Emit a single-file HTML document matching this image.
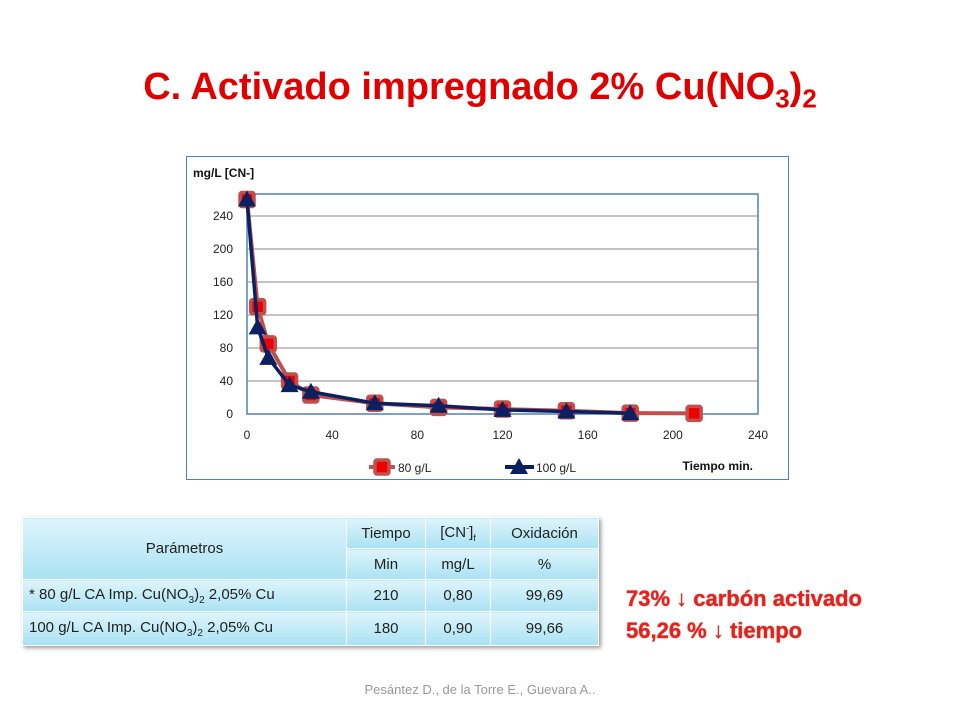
<!DOCTYPE html>
<html><head><meta charset="utf-8"><style>
body{margin:0;width:960px;height:720px;background:#fff;position:relative;overflow:hidden;font-family:"Liberation Sans",sans-serif}
#title{position:absolute;left:0;top:66px;width:960px;text-align:center;color:#e00000;font-weight:bold;font-size:38px}
#chart{position:absolute;left:186px;top:156px;width:603px;height:324px;border:1.5px solid #4f81bd;box-sizing:border-box}
table{position:absolute;left:22px;top:517px;border-collapse:collapse;font-size:15px;color:#222;box-shadow:2px 2px 4px #999}
td{border:1px solid #fff;text-align:center;background:linear-gradient(#def4fb,#a9e2f3);padding:0}
.note{position:absolute;left:626px;color:#e8201a;font-weight:bold;font-size:22px;text-shadow:0 0 1px #a00}
#foot{position:absolute;left:0;width:960px;top:682px;text-align:center;color:#999;font-size:13px}
</style></head><body>
<div id="title">C. Activado impregnado 2% Cu(NO<sub style="font-size:26px">3</sub>)<sub style="font-size:26px">2</sub></div>
<div id="chart"><svg id="svg" width="603" height="324"></svg></div>
<table>
<tr style="height:31px"><td rowspan="2" style="width:323px">Parámetros</td><td style="width:78px">Tiempo</td><td style="width:64px">[CN<sup style="font-size:9px">-</sup>]<sub style="font-size:9px">f</sub></td><td style="width:107px">Oxidación</td></tr>
<tr style="height:31px"><td>Min</td><td>mg/L</td><td>%</td></tr>
<tr style="height:32px"><td style="text-align:left;padding-left:6px">* 80 g/L CA Imp. Cu(NO<sub style="font-size:10px">3</sub>)<sub style="font-size:10px">2</sub> 2,05% Cu</td><td>210</td><td>0,80</td><td>99,69</td></tr>
<tr style="height:34px"><td style="text-align:left;padding-left:6px">100 g/L CA Imp. Cu(NO<sub style="font-size:10px">3</sub>)<sub style="font-size:10px">2</sub> 2,05% Cu</td><td>180</td><td>0,90</td><td>99,66</td></tr>
</table>
<div class="note" style="top:586px">73% ↓ carbón activado</div>
<div class="note" style="top:618px">56,26 % ↓ tiempo</div>
<div id="foot">Pesántez D., de la Torre E., Guevara A..</div>
<script>
const x80=[0,5,10,20,30,60,90,120,150,180,210];
const y80=[260,130,85,40,23,13,8,6,4,1,0.8];
const x100=[0,5,10,20,30,60,90,120,150,180];
const y100=[260,105,68,35,27,13,10,5,3,0.9];
const xTicks=[0,40,80,120,160,200,240];
const yTicks=[0,40,80,120,160,200,240];
const NS="http://www.w3.org/2000/svg";
const svg=document.getElementById('svg');
const L=60,R=571,T=37,B=257;
const sx=v=>L+v/240*(R-L);
function sy2(v){return B-v*(198/240);}
function mk(t,a,txt){const e=document.createElementNS(NS,t);for(const k in a)e.setAttribute(k,a[k]);if(txt!=null)e.textContent=txt;svg.appendChild(e);return e;}
let e;
e=mk('rect',{x:L,y:T,width:R-L,height:B-T,fill:'#fff',stroke:'#4f81bd','stroke-width':1.5});


yTicks.forEach(v=>{
 if(v>0){e=mk('line',{x1:L,x2:R,y1:sy2(v),y2:sy2(v),stroke:'#888'});
 
 }
 e=mk('text',{x:L-14,y:sy2(v)+4,'text-anchor':'end','font-size':12,fill:'#222'},v);
 
 
});
xTicks.forEach(v=>{
 e=mk('text',{x:sx(v),y:B+25,'text-anchor':'middle','font-size':12,fill:'#222'},v);
 
 
});
e=mk('text',{x:6,y:20,'font-size':12,'font-weight':'bold',fill:'#111'},'mg/L [CN-]');


e=mk('text',{x:566,y:313,'text-anchor':'end','font-size':12,'font-weight':'bold',fill:'#111'},'Tiempo min.');


function series(xs,ys,col,w){
 e=mk('polyline',{points:xs.map((x,i)=>sx(x)+','+sy2(ys[i])).join(' '),fill:'none',stroke:col,'stroke-width':w,'stroke-linejoin':'round'});
 
 
}
function sq(x,y){e=mk('rect',{x:x-7,y:y-7,width:14,height:14,fill:'#e00',stroke:'#c0504d','stroke-width':3.5,rx:2});
 
 }
function tri(x,y){e=mk('polygon',{points:`${x},${y-9} ${x-9},${y+7} ${x+9},${y+7}`,fill:'#0a2060'});
 
 }
series(x80,y80,'#c0504d',4);
x80.forEach((x,i)=>sq(sx(x),sy2(y80[i])));
series(x100,y100,'#0a2060',3.5);
x100.forEach((x,i)=>tri(sx(x),sy2(y100[i])));
e=mk('line',{x1:182,x2:208,y1:310,y2:310,stroke:'#c0504d','stroke-width':4});


sq(195,310);
e=mk('text',{x:211,y:315,'font-size':12,fill:'#222'},'80 g/L');


e=mk('line',{x1:318,x2:347,y1:310,y2:310,stroke:'#0a2060','stroke-width':4});


tri(332,310);
e=mk('text',{x:349,y:315,'font-size':12,fill:'#222'},'100 g/L');


</script>
</body></html>
